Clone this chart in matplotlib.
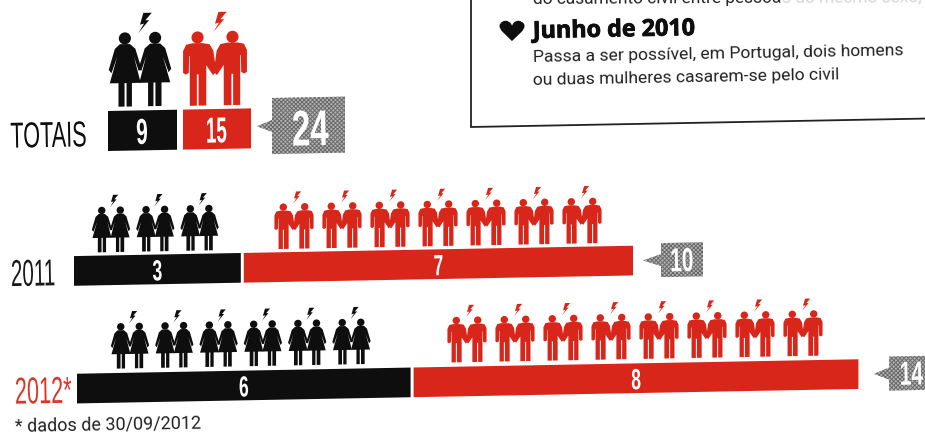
#!/usr/bin/env python3
"""Civil same-sex marriages in Portugal, pictogram bars (scanned magazine page)."""

import matplotlib

matplotlib.use("Agg")

import matplotlib.patheffects as pe
import matplotlib.pyplot as plt
from matplotlib.patches import Circle, Polygon
from matplotlib.transforms import Affine2D

# data
YEARS = ["2011", "2012*"]
WOMEN = [3, 6]
MEN = [7, 8]
YEAR_TOTALS = [10, 14]
ALL_WOMEN = 9
ALL_MEN = 15
ALL_TOTAL = 24
TOTALS_LABEL = "TOTAIS"
INFO_TOP = "do casamento civil entre pessoa"
INFO_TOP_FADED = "s do mesmo sexo, que passa a ser"
INFO_HEAD = "Junho de 2010"
INFO_BODY = ["Passa a ser possível, em Portugal, dois homens",
             "ou duas mulheres casarem-se pelo civil"]
FOOTNOTE = "* dados de 30/09/2012"

# colours
BLACK = "#0e0e0e"
RED = "#d9261b"
YEAR_COLORS = ["#1a1a1a", "#d8382c"]

# layout, in pixels of the page
UNIT = 55.6  # bar length of one marriage
ROW_LEFT = [74, 77]
ROW_GAP = 3
ROW_Y = [272.3, 390]
ROW_H = 29.7
ROW_FEET = [254.6, 371.2]
WOMEN_START = [111, 130]
MEN_START = [294, 467]
WOMEN_STEP = 44.3
MEN_STEP = 48
YEAR_X = [10, 14]
YEAR_SQUEEZE = [0.55, 0.58]
BOX_X = [(661, 703), (889, 940)]
BOX_NUM_X = [694, 923]
BOX_TIP = [643, 874]
SMALL = 0.206
BIG = 0.336

# scan is slightly crooked, everything is sheared by this slope
SLOPE = -0.0185
ANGLE = 1.05

# pictogram outlines, feet at y=0, drawn for the left figure of a couple
WOMAN = [(-15, 188), (-30, 174), (-48, 112), (-40, 102), (-23, 150), (-45, 72),
         (-19, 72), (-19, 2), (-1, 2), (-1, 72), (5, 72), (5, 2), (21, 2),
         (21, 72), (47, 72), (27, 150), (41, 108), (50, 112), (31, 174), (15, 188)]
MAN = [(-15, 188), (-34, 184), (-43, 165), (-43, 100), (-35, 95), (-26, 100), (-25, 150),
       (-23, 150), (-23, 2), (-2, 2), (-2, 95), (3, 95), (3, 2), (26, 2),
       (26, 122), (46, 92), (56, 102), (47, 165), (36, 184), (15, 188)]
BOLT = [(35, 280), (10, 280), (0, 245), (12, 248), (-5, 220), (27, 258), (16, 258)]


class Squeeze(pe.AbstractPathEffect):
    """Narrow the glyphs around one point of the text (condensed look)."""

    def __init__(self, sx, anchor=0.5):
        super().__init__()
        self.sx = sx
        self.anchor = anchor

    def draw_path(self, renderer, gc, tpath, affine, rgbFace=None):
        ext = tpath.get_extents()
        x = ext.x0 + (ext.x1 - ext.x0) * self.anchor
        squeeze = Affine2D().translate(-x, 0).scale(self.sx, 1).translate(x, 0)
        renderer.draw_path(gc, tpath, squeeze + affine, rgbFace)


def draw_pair(ax, tilt, cx, feet, scale, color, outline, spread):
    """One couple with the bolt above them."""
    for side in (-1, 1):
        head = Circle((cx + side * spread * scale, feet - 205 * scale), 18 * scale,
                      color=color, lw=0, transform=tilt)
        ax.add_patch(head)
        points = [(cx + side * (spread - x) * scale, feet - y * scale) for x, y in outline]
        ax.add_patch(Polygon(points, color=color, lw=0, transform=tilt))
    bolt = [(cx + x * scale, feet - y * scale) for x, y in BOLT]
    ax.add_patch(Polygon(bolt, color=color, lw=0, transform=tilt))


def draw_callout(ax, tilt, x0, x1, yc, h, tip):
    points = [(tip, yc), (x0, yc - 6), (x0, yc - h / 2), (x1, yc - h / 2),
              (x1, yc + h / 2), (x0, yc + h / 2), (x0, yc + 6)]
    ax.add_patch(Polygon(points, facecolor="#b4b4b4", edgecolor="#6a6a6a", hatch="xxxxxxxx",
                         lw=0, transform=tilt))


def number(ax, tilt, x, y, s, size, sx, color="white", ha="center"):
    anchor = {"center": 0.5, "right": 1.0}[ha]
    ax.text(x, y, s, transform=tilt, fontsize=size, fontweight="bold", color=color,
            family="Liberation Sans", ha=ha, va="center_baseline", rotation=ANGLE,
            rotation_mode="anchor", path_effects=[Squeeze(sx, anchor)])


def main():
    plt.rcParams["hatch.linewidth"] = 0.7

    fig = plt.figure(figsize=(9.25, 4.36), dpi=100)
    ax = fig.add_axes([0, 0, 1, 1])
    shear = Affine2D.from_values(1, SLOPE, 0, 1, 0, 0)
    tilt = shear + ax.transData

    # totals row
    ax.barh([133], [69], left=[108], height=40, color=BLACK, transform=tilt)
    ax.barh([133], [68], left=[183], height=40, color=RED, transform=tilt)
    draw_pair(ax, tilt, 140, 109.6, BIG, BLACK, WOMAN, 45)
    draw_pair(ax, tilt, 215, 110, BIG, RED, MAN, 52)
    number(ax, tilt, 142, 133, str(ALL_WOMEN), 26, 0.58)
    number(ax, tilt, 216, 133, str(ALL_MEN), 26, 0.52)
    draw_callout(ax, tilt, 272, 345, 131, 56, 257)
    number(ax, tilt, 310, 133, str(ALL_TOTAL), 36, 0.66)
    ax.text(10, 134.4, TOTALS_LABEL, transform=tilt, fontsize=26, color=BLACK,
            family="Liberation Sans", ha="left", va="center_baseline", rotation=ANGLE,
            rotation_mode="anchor", path_effects=[Squeeze(0.6, 0.0)])

    # yearly rows
    for i, year in enumerate(YEARS):
        w_len = WOMEN[i] * UNIT
        m_len = MEN[i] * UNIT
        left = ROW_LEFT[i]
        ax.barh([ROW_Y[i]], [w_len], left=[left], height=ROW_H, color=BLACK, transform=tilt)
        ax.barh([ROW_Y[i]], [m_len], left=[left + w_len + ROW_GAP], height=ROW_H, color=RED,
                transform=tilt)
        number(ax, tilt, left + w_len / 2, ROW_Y[i], str(WOMEN[i]), 21, 0.6)
        number(ax, tilt, left + w_len + ROW_GAP + m_len / 2, ROW_Y[i], str(MEN[i]), 21, 0.6)

        for k in range(WOMEN[i]):
            draw_pair(ax, tilt, WOMEN_START[i] + k * WOMEN_STEP, ROW_FEET[i], SMALL, BLACK, WOMAN, 45)
        for k in range(MEN[i]):
            draw_pair(ax, tilt, MEN_START[i] + k * MEN_STEP, ROW_FEET[i], SMALL, RED, MAN, 52)

        x0, x1 = BOX_X[i]
        draw_callout(ax, tilt, x0, x1, ROW_Y[i], 34, BOX_TIP[i])
        number(ax, tilt, BOX_NUM_X[i], ROW_Y[i] - 0.5, str(YEAR_TOTALS[i]), 24, 0.63, ha="right")

        ax.text(YEAR_X[i], ROW_Y[i], year, transform=tilt, fontsize=27, color=YEAR_COLORS[i],
                family="Liberation Sans", ha="left", va="center_baseline", rotation=ANGLE,
                rotation_mode="anchor", path_effects=[Squeeze(YEAR_SQUEEZE[i], 0.0)])

    ax.text(15, 432, FOOTNOTE, fontsize=13, color="#222222", family="Roboto", va="baseline",
            rotation=ANGLE, rotation_mode="anchor")

    # info box
    ax.plot([471, 471, 940], [-5, 127, 118.3], color="#222222", lw=1.3,
            solid_joinstyle="miter")
    ax.text(533, 4.5, INFO_TOP, fontsize=12.5, color="#222222", family="Roboto", va="baseline",
            rotation=0.3, rotation_mode="anchor")
    ax.text(782, 3.5, INFO_TOP_FADED, fontsize=12.5, color="#d6d6d6", family="Roboto",
            va="baseline", rotation=0.3, rotation_mode="anchor")
    ax.text(512, 33, "♥", fontsize=20, color=BLACK, family="DejaVu Sans", ha="center",
            va="center", path_effects=[Squeeze(1.25)])
    ax.text(533, 38, INFO_HEAD, fontsize=16.8, fontweight="bold", color=BLACK, family="Open Sans",
            va="baseline", rotation=ANGLE, rotation_mode="anchor",
            path_effects=[pe.withStroke(linewidth=0.6, foreground=BLACK)])
    ax.text(533, 62, INFO_BODY[0], fontsize=12.6, color="#222222", family="Roboto", va="baseline",
            rotation=ANGLE, rotation_mode="anchor")
    ax.text(533, 85, INFO_BODY[1], fontsize=12.6, color="#222222", family="Roboto", va="baseline",
            rotation=ANGLE, rotation_mode="anchor")

    ax.set_xlim(0, 925)
    ax.set_ylim(436, 0)
    ax.axis("off")

    fig.savefig("out.png", dpi=100)
    plt.close(fig)


if __name__ == "__main__":
    main()
